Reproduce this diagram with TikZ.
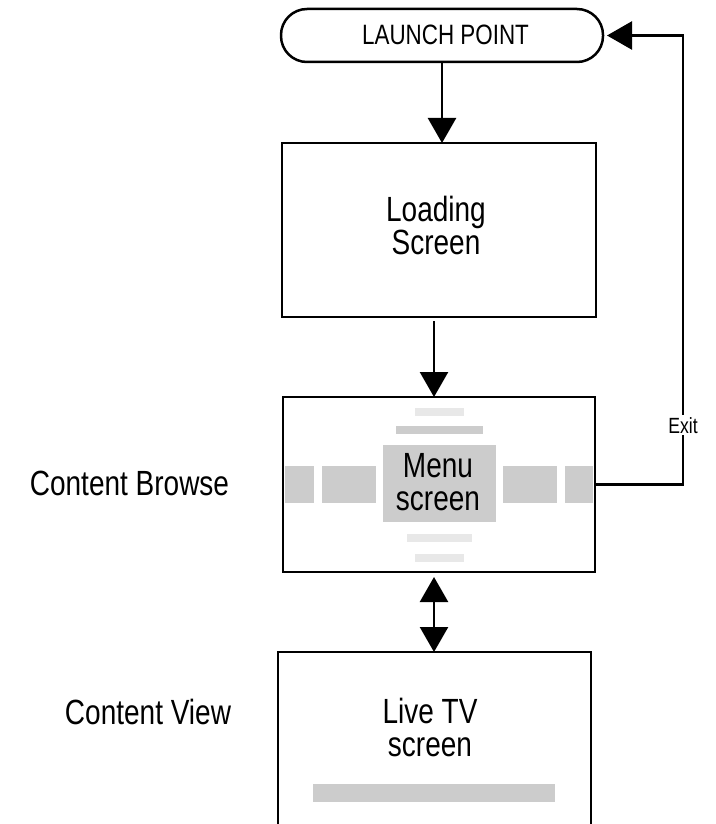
\documentclass[tikz,border=0pt]{standalone}
\usepackage{fontspec}
\setmainfont{Liberation Sans}[FakeStretch=0.8]
\usetikzlibrary{arrows.meta}
\definecolor{midgray}{HTML}{CCCCCC}
\definecolor{lightbar}{HTML}{E8E8E8}
\tikzset{
  box/.style={draw=black, line width=2.5pt, rectangle, inner sep=0pt, outer sep=0pt},
  conn/.style={draw=black, line width=2.5pt},
  tip/.style={-{Triangle[length=25pt,width=28pt]}},
  bitip/.style={{Triangle[length=25pt,width=28pt]}-{Triangle[length=25pt,width=28pt]}},
  big/.style={font=\fontsize{35}{33}\selectfont, align=center, inner sep=0pt},
  gblock/.style={fill=midgray, draw=none},
  lblock/.style={fill=lightbar, draw=none}
}
\begin{document}
\begin{tikzpicture}[x=1pt,y=-1pt]
\fill[white] (0,0) rectangle (715,824);
\useasboundingbox (0,0) rectangle (715,824);

% Launch point
\node[box, rounded corners=26pt, minimum width=322pt, minimum height=53pt] (launch) at (442,35.5) {};
\node[anchor=base, inner sep=0pt, font=\fontsize{28}{30}\selectfont] (launchtxt) at (445.5,45) {LAUNCH POINT};

% Loading screen
\node[box, minimum width=314pt, minimum height=174pt] (loading) at (439,230) {};
\node[big] (loadingtxt) at (436,225) {Loading\\Screen};

% Menu screen decorations
\fill[lblock] (415,408) rectangle (464,416);
\fill[gblock] (396,426) rectangle (483,434);
\fill[gblock] (285,466) rectangle (314,503);
\fill[gblock] (322,466) rectangle (376,503);
\fill[gblock] (503,466) rectangle (557,503);
\fill[gblock] (565,466) rectangle (593,503);
\fill[lblock] (407,534) rectangle (472,542);
\fill[lblock] (415,554) rectangle (464,562);
\node[gblock, minimum width=113pt, minimum height=77pt, inner sep=0pt] (menublock) at (439.5,483.5) {};
\node[big] (menutxt) at (438,482) {Menu\\screen};
\node[box, minimum width=312pt, minimum height=175pt] (menu) at (439,484.5) {};

% Live TV screen
\fill[gblock] (313,784) rectangle (555,802);
\node[box, minimum width=313pt, minimum height=248pt] (live) at (434.5,776) {};
\node[big] (livetxt) at (430,727.5) {Live TV\\screen};

% Side labels
\node[anchor=base, inner sep=0pt, font=\fontsize{35}{36}\selectfont] (browse) at (129.5,495) {Content Browse};
\node[anchor=base, inner sep=0pt, font=\fontsize{35}{36}\selectfont] (view) at (148,724) {Content View};

% Connectors
\draw[conn, tip] (launch.south) -- (launch.south |- loading.north);
\draw[conn, tip] ([xshift=-5pt,yshift=-4pt]loading.south) -- ([xshift=-5pt]loading.south |- menu.north);
\draw[conn, bitip] ([xshift=-5pt,yshift=-5pt]menu.south) -- ([xshift=-5pt]menu.south |- live.north);

\coordinate (exitx) at (683,0);
\draw[conn, tip] (menu.east) -- (menu.east -| exitx) -- (exitx |- launch.east) -- ([xshift=4pt]launch.east);
\node[anchor=base, fill=white, inner sep=2pt, font=\fontsize{22}{24}\selectfont] (exit) at (683,433) {Exit};
\end{tikzpicture}
\end{document}
